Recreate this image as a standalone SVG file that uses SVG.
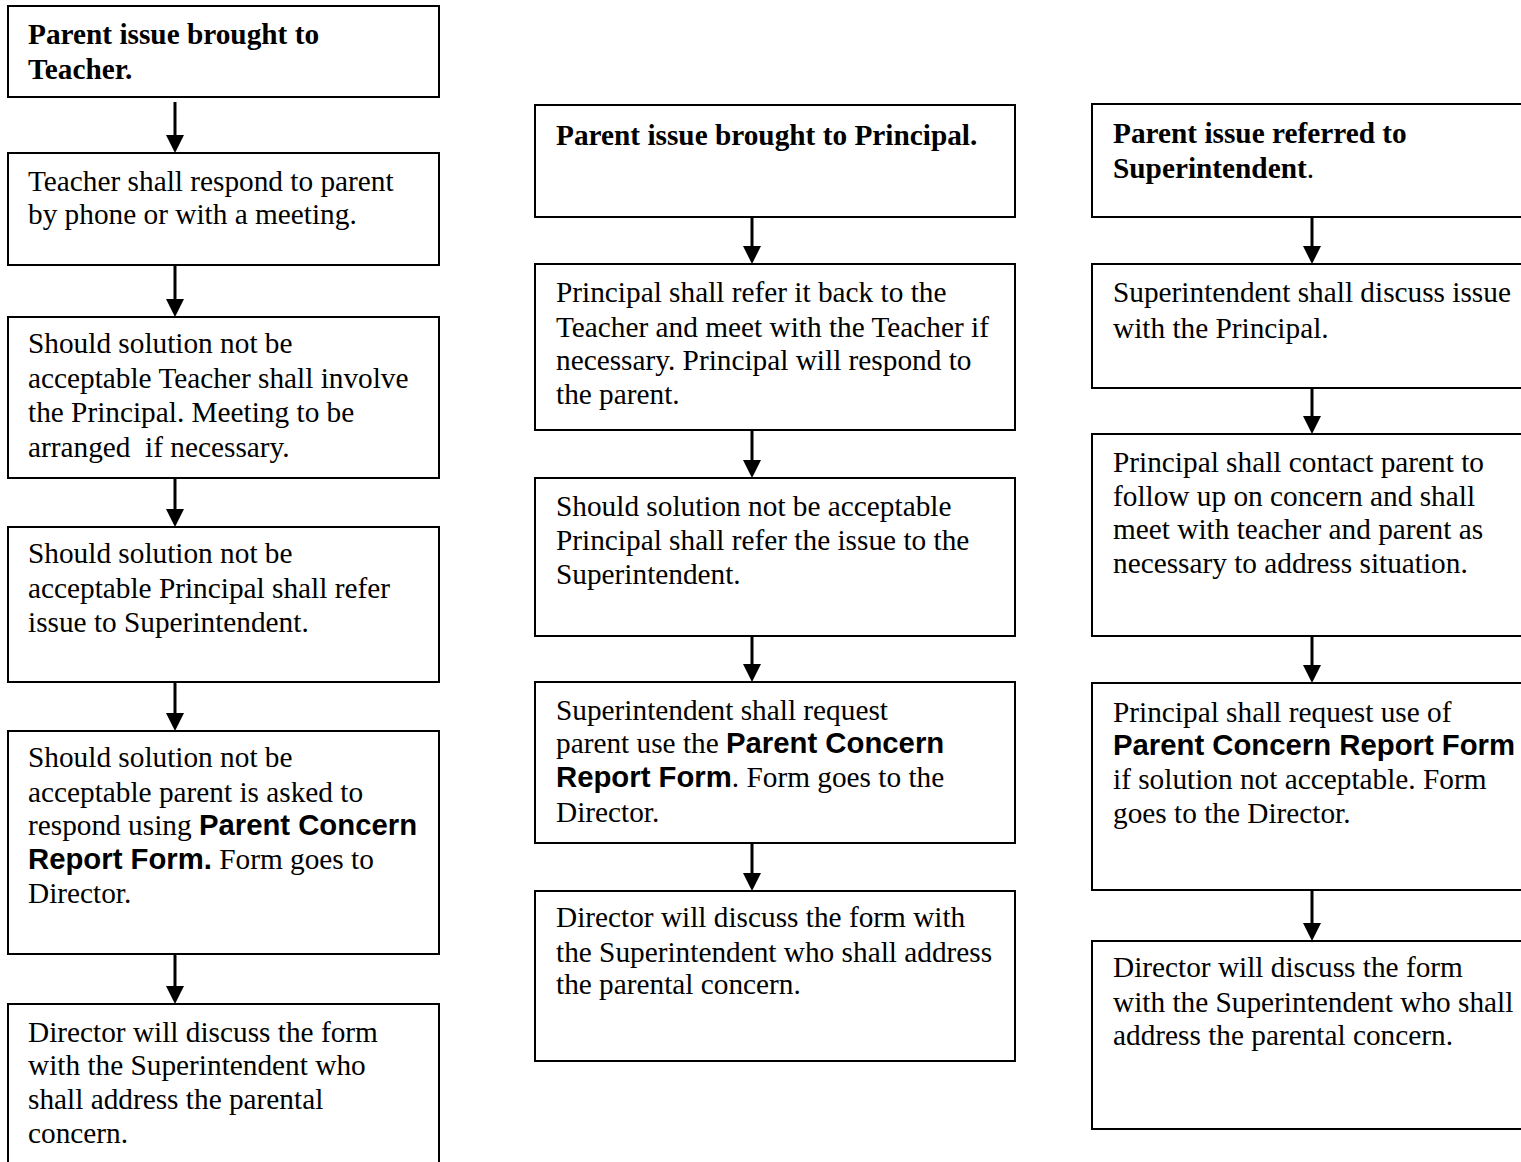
<svg xmlns="http://www.w3.org/2000/svg" width="1521" height="1162" viewBox="0 0 1521 1162">
<defs>
<marker id="ah" viewBox="0 0 18 18" refX="2" refY="9" markerWidth="18" markerHeight="18" markerUnits="userSpaceOnUse" orient="auto">
<path d="M0,0 L18,9 L0,18 z" fill="#000"/>
</marker>
<style>
.box{fill:#fff;stroke:#000;stroke-width:2}
.t{font-family:"Liberation Serif","Times New Roman",serif;font-size:29.3px;fill:#000}
.b{font-weight:bold}
.s{font-family:"Liberation Sans",Arial,sans-serif;font-weight:bold}
.c{stroke:#000;stroke-width:3;fill:none;marker-end:url(#ah)}
</style>
</defs>
<rect width="1521" height="1162" fill="#fff"/>

<g id="connectors">
<path class="c" d="M175,102 V137"/>
<path class="c" d="M175,265 V301"/>
<path class="c" d="M175,478 V511"/>
<path class="c" d="M175,682 V715"/>
<path class="c" d="M175,954 V988"/>
<path class="c" d="M752,217 V248"/>
<path class="c" d="M752,430 V462"/>
<path class="c" d="M752,636 V666"/>
<path class="c" d="M752,843 V875"/>
<path class="c" d="M1312,217 V248"/>
<path class="c" d="M1312,388 V418"/>
<path class="c" d="M1312,636 V667"/>
<path class="c" d="M1312,890 V925"/>
</g>

<g id="L1"><rect class="box" x="8" y="6" width="431" height="91"/>
<text class="t b" x="28" y="44">Parent issue brought to</text>
<text class="t b" x="28" y="79">Teacher.</text></g>

<g id="L2"><rect class="box" x="8" y="153" width="431" height="112"/>
<text class="t" x="28" y="191">Teacher shall respond to parent</text>
<text class="t" x="28" y="224">by phone or with a meeting.</text></g>

<g id="L3"><rect class="box" x="8" y="317" width="431" height="161"/>
<text class="t" x="28" y="353">Should solution not be</text>
<text class="t" x="28" y="388">acceptable Teacher shall involve</text>
<text class="t" x="28" y="422">the Principal. Meeting to be</text>
<text class="t" x="28" y="457" xml:space="preserve">arranged  if necessary.</text></g>

<g id="L4"><rect class="box" x="8" y="527" width="431" height="155"/>
<text class="t" x="28" y="563">Should solution not be</text>
<text class="t" x="28" y="598">acceptable Principal shall refer</text>
<text class="t" x="28" y="632">issue to Superintendent.</text></g>

<g id="L5"><rect class="box" x="8" y="731" width="431" height="223"/>
<text class="t" x="28" y="767">Should solution not be</text>
<text class="t" x="28" y="802">acceptable parent is asked to</text>
<text class="t" x="28" y="835" xml:space="preserve">respond using <tspan class="s">Parent Concern</tspan></text>
<text class="t" x="28" y="869" xml:space="preserve"><tspan class="s">Report Form.</tspan> Form goes to</text>
<text class="t" x="28" y="903">Director.</text></g>

<g id="L6"><rect class="box" x="8" y="1004" width="431" height="200"/>
<text class="t" x="28" y="1042">Director will discuss the form</text>
<text class="t" x="28" y="1075">with the Superintendent who</text>
<text class="t" x="28" y="1109">shall address the parental</text>
<text class="t" x="28" y="1143">concern.</text></g>

<g id="M1"><rect class="box" x="535" y="105" width="480" height="112"/>
<text class="t b" x="556" y="145">Parent issue brought to Principal.</text></g>

<g id="M2"><rect class="box" x="535" y="264" width="480" height="166"/>
<text class="t" x="556" y="302">Principal shall refer it back to the</text>
<text class="t" x="556" y="337">Teacher and meet with the Teacher if</text>
<text class="t" x="556" y="370">necessary. Principal will respond to</text>
<text class="t" x="556" y="404">the parent.</text></g>

<g id="M3"><rect class="box" x="535" y="478" width="480" height="158"/>
<text class="t" x="556" y="516">Should solution not be acceptable</text>
<text class="t" x="556" y="550">Principal shall refer the issue to the</text>
<text class="t" x="556" y="584">Superintendent.</text></g>

<g id="M4"><rect class="box" x="535" y="682" width="480" height="161"/>
<text class="t" x="556" y="720">Superintendent shall request</text>
<text class="t" x="556" y="753" xml:space="preserve">parent use the <tspan class="s">Parent Concern</tspan></text>
<text class="t" x="556" y="787"><tspan class="s">Report Form</tspan>. Form goes to the</text>
<text class="t" x="556" y="822">Director.</text></g>

<g id="M5"><rect class="box" x="535" y="891" width="480" height="170"/>
<text class="t" x="556" y="927">Director will discuss the form with</text>
<text class="t" x="556" y="962">the Superintendent who shall address</text>
<text class="t" x="556" y="994">the parental concern.</text></g>

<g id="R1"><rect class="box" x="1092" y="104" width="432" height="113"/>
<text class="t" x="1113" y="143"><tspan class="b">Parent issue referred to</tspan></text>
<text class="t" x="1113" y="178"><tspan class="b">Superintendent</tspan>.</text></g>

<g id="R2"><rect class="box" x="1092" y="264" width="432" height="124"/>
<text class="t" x="1113" y="302">Superintendent shall discuss issue</text>
<text class="t" x="1113" y="338">with the Principal.</text></g>

<g id="R3"><rect class="box" x="1092" y="434" width="432" height="202"/>
<text class="t" x="1113" y="472">Principal shall contact parent to</text>
<text class="t" x="1113" y="506">follow up on concern and shall</text>
<text class="t" x="1113" y="539">meet with teacher and parent as</text>
<text class="t" x="1113" y="573">necessary to address situation.</text></g>

<g id="R4"><rect class="box" x="1092" y="683" width="432" height="207"/>
<text class="t" x="1113" y="722">Principal shall request use of</text>
<text class="t s" x="1113" y="755">Parent Concern Report Form</text>
<text class="t" x="1113" y="789">if solution not acceptable. Form</text>
<text class="t" x="1113" y="823">goes to the Director.</text></g>

<g id="R5"><rect class="box" x="1092" y="941" width="432" height="188"/>
<text class="t" x="1113" y="977">Director will discuss the form</text>
<text class="t" x="1113" y="1012">with the Superintendent who shall</text>
<text class="t" x="1113" y="1045">address the parental concern.</text></g>
</svg>
